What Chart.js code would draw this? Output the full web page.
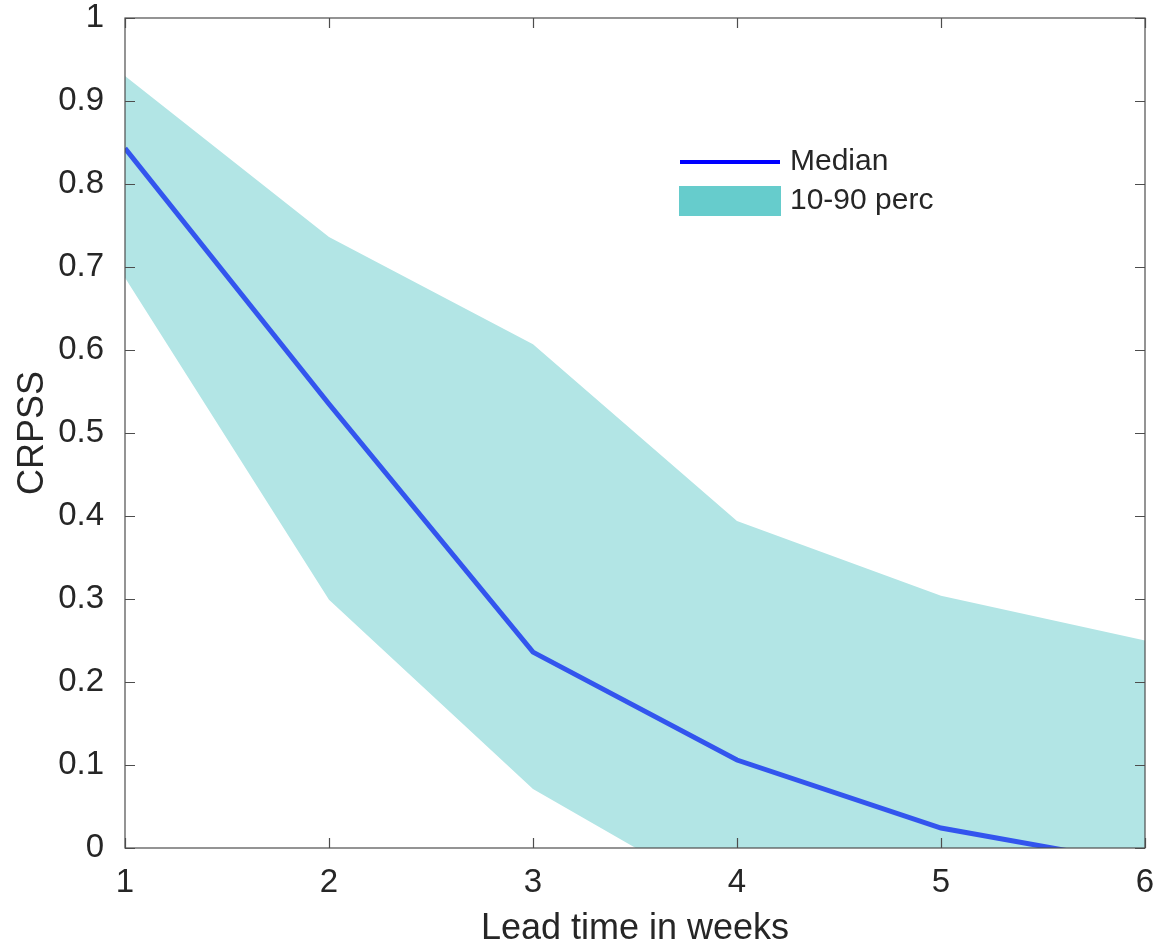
<!DOCTYPE html>
<html>
<head>
<meta charset="utf-8">
<script src="https://cdn.jsdelivr.net/npm/chart.js@4/dist/chart.umd.min.js"></script>
<style>
  html, body { margin: 0; padding: 0; background: #fff; }
  #wrap { width: 1175px; height: 948px; }
</style>
</head>
<body>
<div id="wrap"><canvas id="grafico"></canvas></div>
<script>
// Datos
const weeks = [1, 2, 3, 4, 5, 6];
const median = [0.843, 0.535, 0.236, 0.106, 0.024, -0.020];
const perc90 = [0.930, 0.736, 0.607, 0.394, 0.304, 0.250];
const perc10 = [0.687, 0.299, 0.071, -0.070, -0.100, -0.120];
const legendLabels = ["Median", "10-90 perc"];
const xTitle = "Lead time in weeks";
const yTitle = "CRPSS";

const textColor = "#262626";
const fontFamily = "'Liberation Sans', Arial, sans-serif";

const toPoints = vals => weeks.map((w, i) => ({ x: w, y: vals[i] }));

// Caja estilo MATLAB con marcas hacia dentro + leyenda
const boxPlugin = {
  id: "box",
  afterDatasetsDraw(chart) {
    const { ctx, chartArea: a, scales } = chart;
    const tl = 10;
    ctx.save();
    ctx.strokeStyle = "#4d4d4d";
    ctx.lineWidth = 1.2;
    ctx.strokeRect(a.left, a.top, a.right - a.left, a.bottom - a.top);
    ctx.beginPath();
    scales.x.ticks.forEach(t => {
      const px = Math.round(scales.x.getPixelForValue(t.value)) + 0.5;
      ctx.moveTo(px, a.bottom); ctx.lineTo(px, a.bottom - tl);
      ctx.moveTo(px, a.top); ctx.lineTo(px, a.top + tl);
    });
    scales.y.ticks.forEach(t => {
      const py = Math.round(scales.y.getPixelForValue(t.value)) + 0.5;
      ctx.moveTo(a.left, py); ctx.lineTo(a.left + tl, py);
      ctx.moveTo(a.right, py); ctx.lineTo(a.right - tl, py);
    });
    ctx.stroke();

    // Leyenda dentro del área
    const lx = a.left + 555, ly = a.top + 144;
    ctx.strokeStyle = "#0000ff";
    ctx.lineWidth = 4;
    ctx.beginPath();
    ctx.moveTo(lx, ly); ctx.lineTo(lx + 100, ly);
    ctx.stroke();
    ctx.fillStyle = "#66cccc";
    ctx.fillRect(lx - 1, ly + 24, 102, 30);
    ctx.fillStyle = textColor;
    ctx.font = "30px " + fontFamily;
    ctx.textBaseline = "middle";
    ctx.textAlign = "left";
    ctx.fillText(legendLabels[0], lx + 110, ly);
    ctx.fillText(legendLabels[1], lx + 110, ly + 39);
    ctx.restore();
  }
};

new Chart(document.getElementById("grafico"), {
  type: "line",
  data: {
    datasets: [
      {
        label: legendLabels[0],
        data: toPoints(median),
        borderColor: "#3355ee",
        borderWidth: 5,
        pointRadius: 0,
        fill: false,
        clip: 0,
        tension: 0
      },
      {
        label: legendLabels[1],
        data: toPoints(perc90),
        borderColor: "#b2e5e5",
        borderWidth: 0,
        backgroundColor: "#b2e5e5",
        pointRadius: 0,
        fill: "+1",
        clip: 0
      },
      {
        label: "low",
        data: toPoints(perc10),
        borderColor: "#b2e5e5",
        borderWidth: 0,
        pointRadius: 0,
        fill: false,
        clip: 0
      }
    ]
  },
  options: {
    responsive: true,
    maintainAspectRatio: false,
    animation: false,
    layout: { padding: { left: 6, right: 30, top: 18, bottom: 0 } },
    plugins: { legend: { display: false }, tooltip: { enabled: false } },
    scales: {
      x: {
        type: "linear",
        min: 1, max: 6,
        grid: { display: false },
        border: { display: false },
        ticks: {
          stepSize: 1,
          padding: 7,
          color: textColor,
          font: { size: 33, family: fontFamily },
          maxRotation: 0
        },
        title: {
          display: true,
          text: xTitle,
          color: textColor,
          font: { size: 36, family: fontFamily },
          padding: { top: 0, bottom: -3 }
        },
        afterFit(scale) {
          scale.height = 100;
          scale.paddingLeft = 0;
          scale.paddingRight = 0;
        }
      },
      y: {
        min: 0, max: 1,
        grid: { display: false },
        border: { display: false },
        ticks: {
          stepSize: 0.1,
          padding: 13,
          color: textColor,
          font: { size: 33, family: fontFamily },
          callback: v => String(Math.round(v * 10) / 10)
        },
        title: {
          display: true,
          text: yTitle,
          color: textColor,
          font: { size: 36, family: fontFamily },
          padding: { top: 5, bottom: 4 }
        },
        afterFit(scale) {
          scale.width = 119;
          scale.paddingTop = 0;
          scale.paddingBottom = 0;
        }
      }
    }
  },
  plugins: [boxPlugin]
});
</script>
</body>
</html>
